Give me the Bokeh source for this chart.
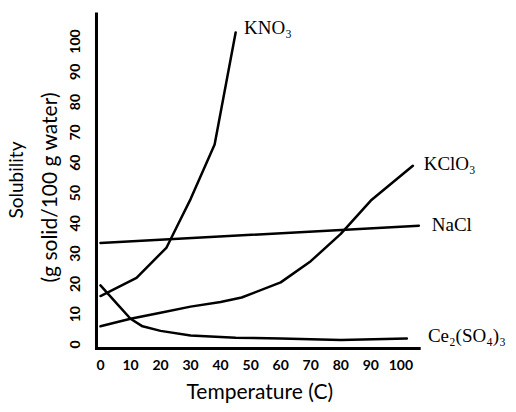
import math
from bokeh.plotting import figure
from bokeh.models import Range1d, FixedTicker, Label, Title
from bokeh.embed import file_html
from bokeh.resources import INLINE

# ---- data ----
x_ticks = [0, 10, 20, 30, 40, 50, 60, 70, 80, 90, 100]
y_ticks = [0, 10, 20, 30, 40, 50, 60, 70, 80, 90, 100]

kno3_t = [0, 12, 22, 26, 30, 38, 45]
kno3_s = [16, 22, 32, 40, 48, 66, 103]

kclo3_t = [0, 10, 20, 30, 40, 47, 60, 70, 80, 90, 104]
kclo3_s = [6, 8.5, 10.5, 12.5, 14, 15.5, 20.5, 27.5, 36.5, 47.5, 59]

nacl_t = [0, 106]
nacl_s = [33.5, 39.2]

ce_t = [0, 5, 10, 14, 20, 30, 45, 60, 80, 102]
ce_s = [19.5, 14, 8.5, 6, 4.5, 3, 2.2, 2, 1.5, 2]

names = ["KNO₃", "KClO₃", "NaCl", "Ce₂(SO₄)₃"]

# ---- layout constants ----
X_START, X_END = -2.99, 138.5       # frame reaches the right edge so labels sit inside it
Y_START, Y_END = -2.97, 110.9
AXIS_X = -1.33                      # drawn y-axis line
AXIS_Y = -1.32                      # drawn x-axis line
AXIS_X_END = 106.6
AXIS_Y_END = 109.6
CORNER = -1.8

p = figure(width=516, height=412, output_backend="svg", toolbar_location=None,
           x_range=Range1d(X_START, X_END), y_range=Range1d(Y_START, Y_END),
           min_border_left=90, min_border_right=0, min_border_top=8, min_border_bottom=59)
p.outline_line_color = None
p.xgrid.visible = False
p.ygrid.visible = False
p.background_fill_color = "white"
p.border_fill_color = "white"

for ax in (p.xaxis[0], p.yaxis[0]):
    ax.axis_line_color = None
    ax.major_tick_line_color = None
    ax.minor_tick_line_color = None
    ax.major_label_text_font = "Lato"
    ax.major_label_text_font_style = "bold"
    ax.major_label_text_color = "black"
    ax.major_label_text_font_size = "14px"

p.xaxis[0].ticker = FixedTicker(ticks=x_ticks)
p.yaxis[0].ticker = FixedTicker(ticks=y_ticks)
p.xaxis[0].major_label_standoff = 0
p.yaxis[0].major_label_standoff = 5
p.yaxis[0].major_label_orientation = "parallel"

# axis lines
p.line([CORNER, AXIS_X_END], [AXIS_Y, AXIS_Y], line_width=3, line_color="black")
p.line([AXIS_X, AXIS_X], [CORNER, AXIS_Y_END], line_width=3, line_color="black")

lw = 2.5
for t, s in [(kno3_t, kno3_s), (kclo3_t, kclo3_s), (nacl_t, nacl_s), (ce_t, ce_s)]:
    p.line(t, s, line_width=lw, line_color="black", line_join="round", line_cap="round")

# curve labels placed next to the line ends
ends = [(kno3_t[-1], kno3_s[-1]), (kclo3_t[-1], kclo3_s[-1]),
        (nacl_t[-1], nacl_s[-1]), (ce_t[-1], ce_s[-1])]
offsets = [(2.8, 1.5), (3.6, 0.9), (4.3, 0.4), (7.0, 1.1)]
for name, (ex, ey), (dx, dy) in zip(names, ends, offsets):
    p.add_layout(Label(x=ex + dx, y=ey + dy, text=name, text_font="Liberation Serif",
                       text_font_size="19px", text_baseline="middle", text_align="left",
                       text_color="black"))

# axis titles
p.add_layout(Title(text="(g solid/100 g water)", align="left", offset=71, standoff=13,
                   text_font="Lato", text_font_size="21px", text_font_style="normal",
                   text_color="black"), "left")
p.add_layout(Title(text="Solubility", align="left", offset=135, standoff=2,
                   text_font="Lato", text_font_size="19px", text_font_style="normal",
                   text_color="black"), "left")
p.add_layout(Title(text="Temperature (C)", align="left", offset=95, standoff=6,
                   text_font="Lato", text_font_size="21px", text_font_style="normal",
                   text_color="black"), "below")

open("out.html", "w").write(file_html(p, INLINE))
